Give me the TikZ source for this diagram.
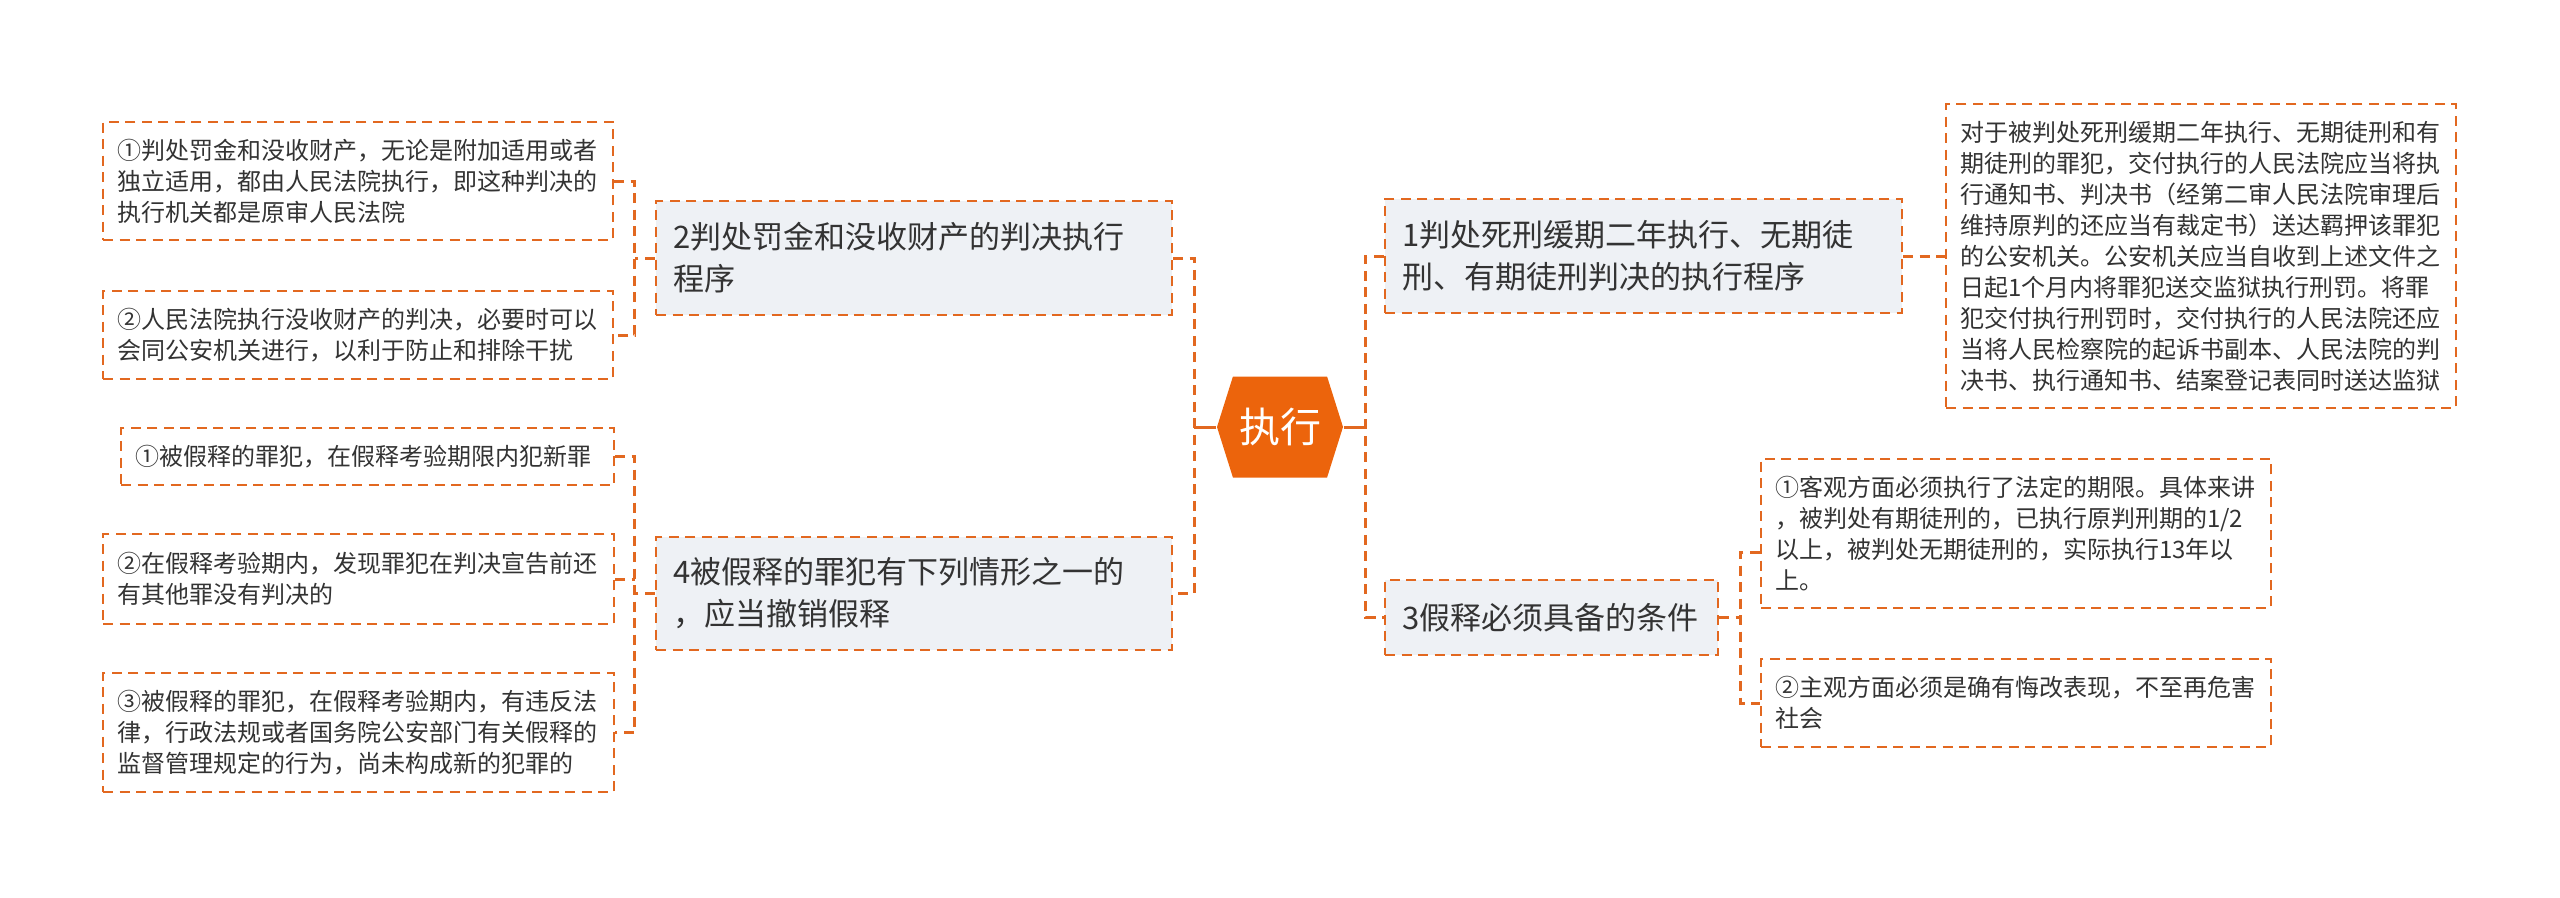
\documentclass[tikz,border=0pt]{standalone}
\usepackage{fontspec}
\setmainfont{Noto Sans CJK SC}
\usetikzlibrary{shapes.symbols, positioning, calc}
\definecolor{mmorange}{RGB}{236,100,12}
\definecolor{mmline}{RGB}{226,104,32}
\definecolor{mmgray}{RGB}{238,241,245}
\definecolor{mmtext}{RGB}{51,51,51}

\begin{document}
\begin{tikzpicture}[
  leaf/.style={draw=mmline, dash pattern=on 0.1cm off 0.065cm, line width=0.6pt, text=mmtext, font=\fontsize{6.83}{8.82}\selectfont, align=left, inner xsep=0.14cm, inner ysep=0pt},
  topic/.style={leaf, fill=mmgray, font=\fontsize{8.82}{11.95}\selectfont, inner xsep=0.17cm},
  hexroot/.style={signal, signal to=west and east, signal pointer angle=145, fill=mmorange, text=white, font=\fontsize{11.67}{14}\selectfont, minimum width=1.26cm, minimum height=1.01cm, inner sep=0pt},
  link/.style={draw=mmline, dash pattern=on 0.1cm off 0.065cm, line width=0.85pt}
]
  \useasboundingbox (0,0) rectangle (25.6,-8.97);

  \node[hexroot] (root) at (12.80,-4.27) {执行};

  \node[topic, text width=4.82cm, minimum height=1.14cm] (B2) at (9.14,-2.58) {2判处罚金和没收财产的判决执行\\程序};
  \node[topic, text width=4.82cm, minimum height=1.13cm] (B4) at (9.14,-5.935) {4被假释的罪犯有下列情形之一的\\，应当撤销假释};
  \node[topic, text width=4.83cm, minimum height=1.14cm] (B1) at (16.435,-2.56) {1判处死刑缓期二年执行、无期徒\\刑、有期徒刑判决的执行程序};
  \node[topic, text width=2.99cm, minimum height=0.75cm] (B3) at (15.515,-6.175) {3假释必须具备的条件};

  \node[leaf, text width=4.82cm, minimum height=1.18cm] (L1a) at (3.58,-1.81) {①判处罚金和没收财产，无论是附加适用或者\\独立适用，都由人民法院执行，即这种判决的\\执行机关都是原审人民法院};
  \node[leaf, text width=4.82cm, minimum height=0.88cm] (L1b) at (3.58,-3.35) {②人民法院执行没收财产的判决，必要时可以\\会同公安机关进行，以利于防止和排除干扰};
  \node[leaf, text width=4.65cm, minimum height=0.57cm] (L4a) at (3.675,-4.565) {①被假释的罪犯，在假释考验期限内犯新罪};
  \node[leaf, text width=4.83cm, minimum height=0.90cm] (L4b) at (3.585,-5.79) {②在假释考验期内，发现罪犯在判决宣告前还\\有其他罪没有判决的};
  \node[leaf, text width=4.83cm, minimum height=1.19cm] (L4c) at (3.585,-7.325) {③被假释的罪犯，在假释考验期内，有违反法\\律，行政法规或者国务院公安部门有关假释的\\监督管理规定的行为，尚未构成新的犯罪的};

  \node[leaf, text width=4.82cm, minimum height=3.04cm] (R1) at (22.01,-2.56) {对于被判处死刑缓期二年执行、无期徒刑和有\\期徒刑的罪犯，交付执行的人民法院应当将执\\行通知书、判决书（经第二审人民法院审理后\\维持原判的还应当有裁定书）送达羁押该罪犯\\的公安机关。公安机关应当自收到上述文件之\\日起1个月内将罪犯送交监狱执行刑罚。将罪\\犯交付执行刑罚时，交付执行的人民法院还应\\当将人民检察院的起诉书副本、人民法院的判\\决书、执行通知书、结案登记表同时送达监狱};
  \node[leaf, text width=4.82cm, minimum height=1.49cm] (R3a) at (20.16,-5.335) {①客观方面必须执行了法定的期限。具体来讲\\，被判处有期徒刑的，已执行原判刑期的1/2\\以上，被判处无期徒刑的，实际执行13年以\\上。};
  \node[leaf, text width=4.82cm, minimum height=0.88cm] (R3b) at (20.16,-7.03) {②主观方面必须是确有悔改表现，不至再危害\\社会};

  \draw[mmline, line width=0.85pt] (root.west) -- ++(-0.22,0) coordinate (kc);
  \draw[link] (B2.east) -| (kc) |- (B4.east);
  \draw[mmline, line width=0.85pt] (root.east) -- ++(0.22,0) coordinate (kr);
  \draw[link] (B1.west) -| (kr) |- (B3.west);

  \draw[link] (B2.west) -- ++(-0.2,0) coordinate (k2);
  \draw[link] (L1a.east) -| (k2) |- (L1b.east);
  \draw[link] (B4.west) -- ++(-0.2,0) coordinate (k4);
  \draw[link] (L4a.east) -| (k4) |- (L4c.east);
  \draw[link] (L4b.east) -- (L4b.east -| k4);

  \draw[link] (B1.east) -- (R1.west);
  \draw[link] (B3.east) -- ++(0.21,0) coordinate (k3);
  \draw[link] ([yshift=-0.19cm]R3a.west) -| (k3) |- (R3b.west);
\end{tikzpicture}
\end{document}
